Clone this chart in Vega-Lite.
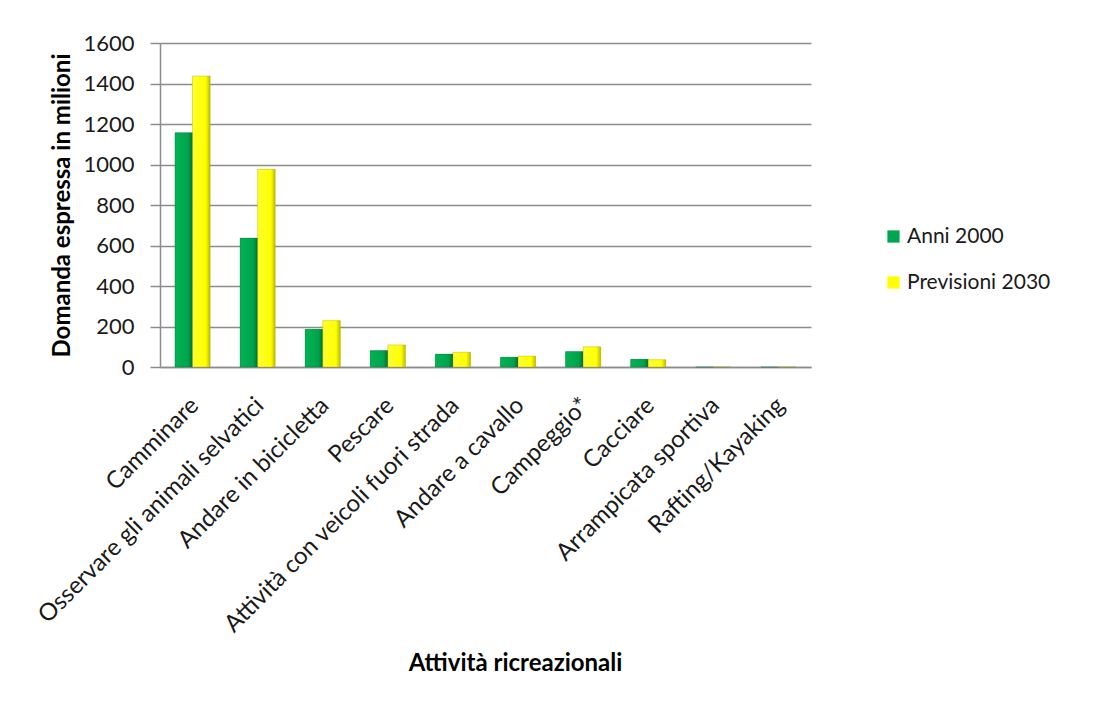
{
  "$schema": "https://vega.github.io/schema/vega-lite/v6.json",
  "width": 651,
  "height": 324,
  "autosize": {"type": "none"},
  "padding": {"left": 160, "top": 43, "right": 297, "bottom": 335},
  "background": "white",
  "config": {
    "view": {"stroke": null},
    "font": "Lato",
    "axis": {"labelFont": "Lato", "titleFont": "Lato", "labelColor": "#1a1a1a", "titleColor": "#000000"},
    "legend": {"labelFont": "Lato"}
  },
  "data": {
    "values": [
      {"attivita": "Camminare", "serie": "Anni 2000", "valore": 1157},
      {"attivita": "Camminare", "serie": "Previsioni 2030", "valore": 1437},
      {"attivita": "Osservare gli animali selvatici", "serie": "Anni 2000", "valore": 637},
      {"attivita": "Osservare gli animali selvatici", "serie": "Previsioni 2030", "valore": 976},
      {"attivita": "Andare in bicicletta", "serie": "Anni 2000", "valore": 186},
      {"attivita": "Andare in bicicletta", "serie": "Previsioni 2030", "valore": 229},
      {"attivita": "Pescare", "serie": "Anni 2000", "valore": 81},
      {"attivita": "Pescare", "serie": "Previsioni 2030", "valore": 109},
      {"attivita": "Attività con veicoli fuori strada", "serie": "Anni 2000", "valore": 64},
      {"attivita": "Attività con veicoli fuori strada", "serie": "Previsioni 2030", "valore": 73},
      {"attivita": "Andare a cavallo", "serie": "Anni 2000", "valore": 48},
      {"attivita": "Andare a cavallo", "serie": "Previsioni 2030", "valore": 54},
      {"attivita": "Campeggio*", "serie": "Anni 2000", "valore": 76},
      {"attivita": "Campeggio*", "serie": "Previsioni 2030", "valore": 100},
      {"attivita": "Cacciare", "serie": "Anni 2000", "valore": 38},
      {"attivita": "Cacciare", "serie": "Previsioni 2030", "valore": 36},
      {"attivita": "Arrampicata sportiva", "serie": "Anni 2000", "valore": 0},
      {"attivita": "Arrampicata sportiva", "serie": "Previsioni 2030", "valore": 0},
      {"attivita": "Rafting/Kayaking", "serie": "Anni 2000", "valore": 0},
      {"attivita": "Rafting/Kayaking", "serie": "Previsioni 2030", "valore": 0}
    ]
  },
  "encoding": {
    "x": {
      "field": "attivita",
      "type": "nominal",
      "sort": null,
      "scale": {"paddingInner": 0.46, "paddingOuter": 0.23},
      "axis": {
        "title": "Attività ricreazionali",
        "titleFontSize": 24,
        "titleFontWeight": "bold",
        "titleX": 355,
        "titleY": 284,
        "titleAnchor": "middle",
        "labelAngle": -45,
        "labelFontSize": 24,
        "labelPadding": 26,
        "labelDx": -19,
        "labelOffset": -6,
        "ticks": false,
        "domainColor": "#8c8c8c",
        "domainWidth": 1.5,
        "labelLimit": 500
      }
    },
    "xOffset": {"field": "serie", "type": "nominal", "scale": {"domain": ["Anni 2000", "Previsioni 2030"], "paddingInner": 0}},
    "y": {
      "field": "valore",
      "type": "quantitative",
      "scale": {"domain": [0, 1600]},
      "axis": {
        "title": "Domanda espressa in milioni",
        "titleFontSize": 24,
        "titleFontWeight": "bold",
        "titlePadding": 8,
        "format": "d",
        "values": [0, 200, 400, 600, 800, 1000, 1200, 1400, 1600],
        "labelFontSize": 22,
        "labelPadding": 16,
        "tickSize": 10,
        "tickColor": "#8c8c8c",
        "tickWidth": 1.5,
        "domainColor": "#8c8c8c",
        "domainWidth": 1.5,
        "gridColor": "#8c8c8c",
        "gridWidth": 1.5
      }
    }
  },
  "layer": [
    {
      "mark": {"type": "bar"},
      "encoding": {
        "color": {
          "field": "serie",
          "type": "nominal",
          "scale": {"domain": ["Anni 2000", "Previsioni 2030"], "range": ["#00a64f", "#ffff00"]},
          "legend": {
            "title": null,
            "orient": "none",
            "legendX": 723,
            "legendY": 183,
            "symbolType": "square",
            "symbolSize": 150,
            "symbolStrokeWidth": 1,
            "labelFontSize": 21,
            "labelColor": "#1a1a1a",
            "rowPadding": 24,
            "labelOffset": 3
          }
        }
      }
    },
    {
      "transform": [{"filter": "datum.serie === 'Anni 2000'"}],
      "mark": {
        "type": "bar",
        "stroke": "#005a2a",
        "strokeWidth": 0.8,
        "strokeOpacity": 0.35,
        "fill": {"gradient": "linear", "x1": 0, "y1": 0, "x2": 1, "y2": 0, "stops": [
          {"offset": 0, "color": "#00b453"},
          {"offset": 0.75, "color": "#00a34c"},
          {"offset": 1, "color": "#00703a"}
        ]}
      }
    },
    {
      "transform": [{"filter": "datum.serie === 'Previsioni 2030'"}],
      "mark": {
        "type": "bar",
        "stroke": "#8a8a00",
        "strokeWidth": 0.8,
        "strokeOpacity": 0.35,
        "fill": {"gradient": "linear", "x1": 0, "y1": 0, "x2": 1, "y2": 0, "stops": [
          {"offset": 0, "color": "#ffff2e"},
          {"offset": 0.75, "color": "#ffff00"},
          {"offset": 1, "color": "#bdbd00"}
        ]}
      }
    }
  ]
}
